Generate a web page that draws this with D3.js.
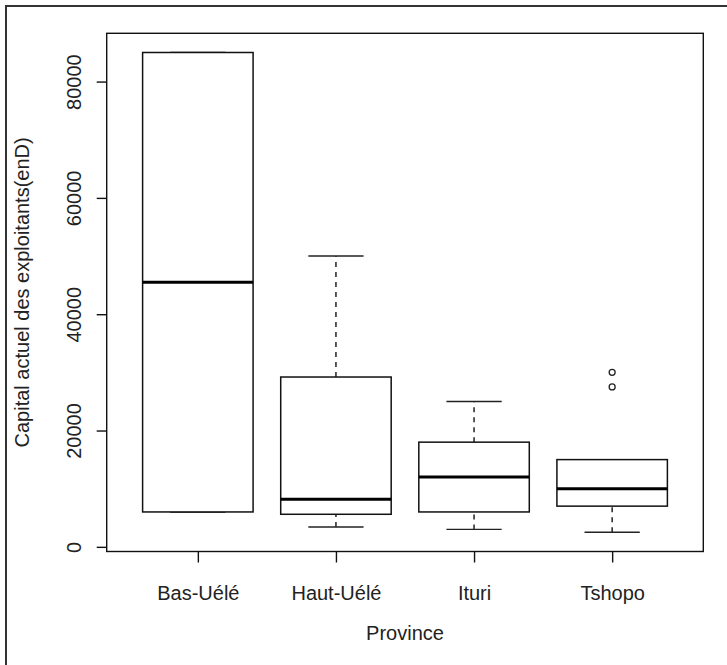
<!DOCTYPE html>
<html>
<head>
<meta charset="utf-8">
<script src="https://cdn.jsdelivr.net/npm/d3@7"></script>
<style>
  body { margin: 0; background: #fff; }
  text { font-family: "Liberation Sans", Arial, sans-serif; fill: #222; }
</style>
</head>
<body>
<div class="canvas"></div>
<script>
// data
const provinces = ['Bas-Uélé', 'Haut-Uélé', 'Ituri', 'Tshopo'];
const lowWhisker = [6000, 3400, 3000, 2500];
const q1 = [6000, 5600, 6000, 7000];
const medians = [45500, 8200, 12000, 10000];
const q3 = [85000, 29200, 18000, 15000];
const highWhisker = [85000, 50000, 25000, 15000];
const outlierGroup = [4, 4];
const outlierValue = [27500, 30000];
const yTicks = [0, 20000, 40000, 60000, 80000];

const width = 727, height = 665;

const svg = d3.select('.canvas')
  .append('svg')
  .attr('width', width)
  .attr('height', height);

// outer frame (only left and top show in the crop)
svg.append('path')
  .attr('d', `M6,${height} L6,6 L${width},6`)
  .attr('fill', 'none')
  .attr('stroke', '#333')
  .attr('stroke-width', 2);

//margins and dimensions
const margin = { top: 33.3, right: 23.7, bottom: 113.5, left: 106.7 };
const graphWidth = width - margin.left - margin.right;
const graphHeight = height - margin.top - margin.bottom;

const graph = svg.append('g')
  .attr('transform', `translate(${margin.left},${margin.top})`);

// scales, R style 4% padding
const yMin = d3.min(lowWhisker.concat(outlierValue));
const yMax = d3.max(highWhisker.concat(outlierValue));
const pad = (yMax - yMin) * 0.04;
const y = d3.scaleLinear()
  .domain([yMin - pad, yMax + pad])
  .range([graphHeight, 0]);

const n = provinces.length;
const x = d3.scaleLinear()
  .domain([0.5 - n * 0.04, n + 0.5 + n * 0.04])
  .range([0, graphWidth]);

const boxHalf = x(1.4) - x(1);
const stapleHalf = x(1.2) - x(1);

// frame
graph.append('rect')
  .attr('width', graphWidth)
  .attr('height', graphHeight)
  .attr('fill', 'none')
  .attr('stroke', '#111')
  .attr('stroke-width', 1.4);

// axes
const yAxisGroup = graph.append('g');
const xAxisGroup = graph.append('g')
  .attr('transform', `translate(0,${graphHeight})`);

const yAxis = d3.axisLeft(y)
  .tickValues(yTicks)
  .tickFormat(d3.format('d'))
  .tickSize(10)
  .tickSizeOuter(0);
const xAxis = d3.axisBottom(x)
  .tickValues(d3.range(1, n + 1))
  .tickFormat(i => provinces[i - 1])
  .tickSize(11)
  .tickSizeOuter(0);

yAxisGroup.call(yAxis);
xAxisGroup.call(xAxis);

[yAxisGroup, xAxisGroup].forEach(g => {
  g.select('.domain').remove();
  g.selectAll('line').attr('stroke', '#111').attr('stroke-width', 1.4);
  g.selectAll('text').attr('fill', '#222').style('font-size', '20px')
    .attr('font-family', null);
});

yAxisGroup.selectAll('text')
  .attr('x', null)
  .attr('dy', null)
  .attr('text-anchor', 'middle')
  .attr('transform', 'translate(-26.2,0) rotate(-90)');

xAxisGroup.selectAll('text')
  .attr('y', 48.5)
  .attr('dy', null);

// boxes
const idx = d3.range(n);

const whisk = graph.append('g');
idx.forEach(i => {
  const cx = x(i + 1);
  // dashed whiskers
  [[q3[i], highWhisker[i]], [lowWhisker[i], q1[i]]].forEach(([a, b]) => {
    if (a === b) return;
    whisk.append('line')
      .attr('x1', cx).attr('x2', cx)
      .attr('y1', y(a)).attr('y2', y(b))
      .attr('stroke', '#222')
      .attr('stroke-width', 1.5)
      .attr('stroke-dasharray', '5,5');
  });
  // staples
  [lowWhisker[i], highWhisker[i]].forEach(v => {
    whisk.append('line')
      .attr('x1', cx - stapleHalf).attr('x2', cx + stapleHalf)
      .attr('y1', y(v)).attr('y2', y(v))
      .attr('stroke', '#222')
      .attr('stroke-width', 1.4);
  });
});

graph.selectAll('rect.box')
  .data(idx)
  .enter()
  .append('rect')
  .attr('class', 'box')
  .attr('x', i => x(i + 1) - boxHalf)
  .attr('width', boxHalf * 2)
  .attr('y', i => y(q3[i]))
  .attr('height', i => y(q1[i]) - y(q3[i]))
  .attr('fill', '#fff')
  .attr('stroke', '#111')
  .attr('stroke-width', 1.5);

graph.selectAll('line.median')
  .data(idx)
  .enter()
  .append('line')
  .attr('class', 'median')
  .attr('x1', i => x(i + 1) - boxHalf)
  .attr('x2', i => x(i + 1) + boxHalf)
  .attr('y1', i => y(medians[i]))
  .attr('y2', i => y(medians[i]))
  .attr('stroke', '#000')
  .attr('stroke-width', 3);

// outliers
graph.selectAll('circle')
  .data(outlierValue)
  .enter()
  .append('circle')
  .attr('cx', (d, k) => x(outlierGroup[k]))
  .attr('cy', d => y(d))
  .attr('r', 3)
  .attr('fill', 'none')
  .attr('stroke', '#222')
  .attr('stroke-width', 1.3);

// axis titles
svg.append('text')
  .attr('transform', `translate(28.5,${margin.top + graphHeight / 2}) rotate(-90)`)
  .attr('text-anchor', 'middle')
  .style('font-size', '20px')
  .text('Capital actuel des exploitants(enD)');

svg.append('text')
  .attr('x', margin.left + graphWidth / 2)
  .attr('y', 640)
  .attr('text-anchor', 'middle')
  .style('font-size', '20px')
  .text('Province');
</script>
</body>
</html>
